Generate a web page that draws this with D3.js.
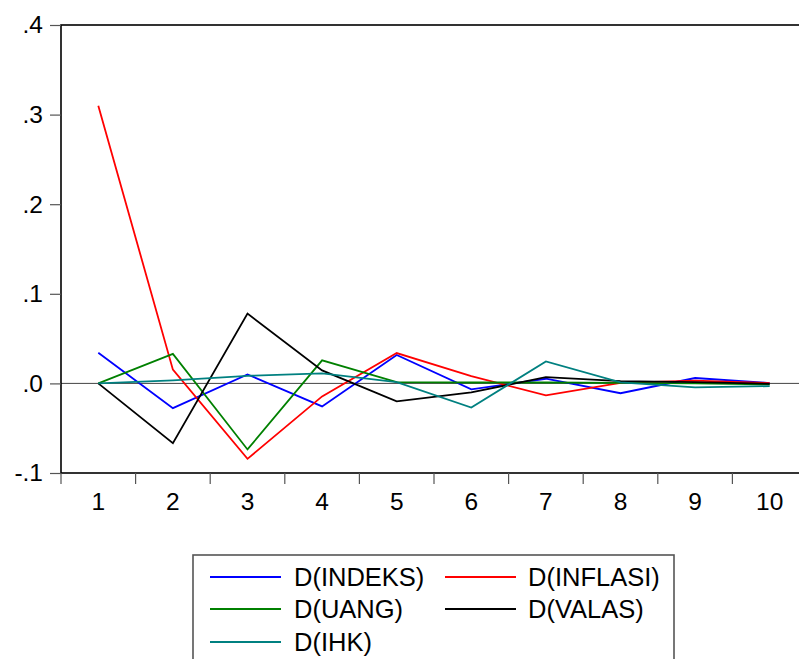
<!DOCTYPE html>
<html>
<head>
<meta charset="utf-8">
<script src="https://cdn.jsdelivr.net/npm/d3@7"></script>
<style>
  html, body { margin: 0; padding: 0; background: #fff; }
  svg { display: block; }
  text { font-family: "Liberation Sans", Arial, sans-serif; fill: #000; }
</style>
</head>
<body>
<svg id="chart" width="799" height="659"></svg>
<script>
const categories = ["1","2","3","4","5","6","7","8","9","10"];
const yTicks = [-0.1, 0, 0.1, 0.2, 0.3, 0.4];
const yTickLabels = ["-.1", ".0", ".1", ".2", ".3", ".4"];

const indeks  = [0.0343, -0.0276, 0.0100, -0.0257, 0.0317, -0.0066, 0.0052, -0.0110, 0.0060, 0.0004];
const inflasi = [0.3100, 0.0153, -0.0842, -0.0145, 0.0339, 0.0080, -0.0134, 0.0007, 0.0030, 0.0004];
const uang    = [0.0000, 0.0330, -0.0737, 0.0257, 0.0015, 0.0010, 0.0010, 0.0005, 0.0000, -0.0010];
const valas   = [0.0000, -0.0667, 0.0779, 0.0145, -0.0200, -0.0100, 0.0070, 0.0025, 0.0015, -0.0005];
const ihk     = [0.0000, 0.0034, 0.0085, 0.0112, 0.0015, -0.0270, 0.0245, 0.0012, -0.0045, -0.0030];

const seriesNames = ["D(INDEKS)", "D(INFLASI)", "D(UANG)", "D(VALAS)", "D(IHK)"];
const seriesValues = [indeks, inflasi, uang, valas, ihk];
const seriesColors = ["#0000ff", "#ff0000", "#008000", "#000000", "#008080"];

const svg = d3.select("#chart");
const pLeft = 61, pRight = 807, pTop = 25, pBottom = 473;

const x = d3.scaleBand().domain(categories).range([pLeft, pRight]);
const y = d3.scaleLinear().domain([-0.1, 0.4]).range([pBottom, pTop]);

// zero line
svg.append("line")
  .attr("x1", pLeft).attr("x2", pRight)
  .attr("y1", y(0)).attr("y2", y(0))
  .attr("stroke", "#444").attr("stroke-width", 1);

// series
const line = d3.line()
  .x((d, i) => x(categories[i]) + x.bandwidth() / 2)
  .y(d => y(d));

seriesValues.forEach((vals, k) => {
  svg.append("path")
    .datum(vals)
    .attr("d", line)
    .attr("fill", "none")
    .attr("stroke", seriesColors[k])
    .attr("stroke-width", 1.8)
    .attr("stroke-linejoin", "miter");
});

// frame
svg.append("rect")
  .attr("x", pLeft).attr("y", pTop)
  .attr("width", pRight - pLeft).attr("height", pBottom - pTop)
  .attr("fill", "none").attr("stroke", "#000").attr("stroke-width", 1.6);

// y axis
const yAxis = d3.axisLeft(y)
  .tickValues(yTicks)
  .tickSize(11)
  .tickPadding(7)
  .tickFormat((d, i) => yTickLabels[i]);
const gy = svg.append("g").attr("transform", `translate(${pLeft},0)`).call(yAxis);
gy.select(".domain").remove();
gy.selectAll(".tick line").attr("stroke", "#555").attr("stroke-width", 1.2);
gy.selectAll(".tick text")
  .attr("font-size", 24.5)
  .attr("font-family", "Liberation Sans, Arial, sans-serif")
  .attr("fill", "#000");

// x axis: ticks at band boundaries, labels at centres
const boundaries = categories.map(c => x(c)).concat([pRight]);
svg.append("g").selectAll("line")
  .data(boundaries)
  .join("line")
  .attr("x1", d => d).attr("x2", d => d)
  .attr("y1", pBottom).attr("y2", pBottom + 11)
  .attr("stroke", "#555").attr("stroke-width", 1.2);

svg.append("g").selectAll("text")
  .data(categories)
  .join("text")
  .attr("x", d => x(d) + x.bandwidth() / 2)
  .attr("y", 510)
  .attr("text-anchor", "middle")
  .attr("font-size", 24.5)
  .text(d => d);

// legend
const legend = svg.append("g");
legend.append("rect")
  .attr("x", 193).attr("y", 555)
  .attr("width", 481).attr("height", 120)
  .attr("fill", "#fff").attr("stroke", "#555").attr("stroke-width", 1.6);

const legendPos = [
  {lx: 210, tx: 294, cy: 577},
  {lx: 445, tx: 528, cy: 577},
  {lx: 210, tx: 294, cy: 609},
  {lx: 445, tx: 528, cy: 609},
  {lx: 210, tx: 294, cy: 642}
];
seriesNames.forEach((name, k) => {
  const p = legendPos[k];
  legend.append("line")
    .attr("x1", p.lx).attr("x2", p.lx + 71)
    .attr("y1", p.cy).attr("y2", p.cy)
    .attr("stroke", seriesColors[k]).attr("stroke-width", 1.8);
  legend.append("text")
    .attr("x", p.tx).attr("y", p.cy + 8.5)
    .attr("font-size", 25.5)
    .text(name);
});
</script>
</body>
</html>
